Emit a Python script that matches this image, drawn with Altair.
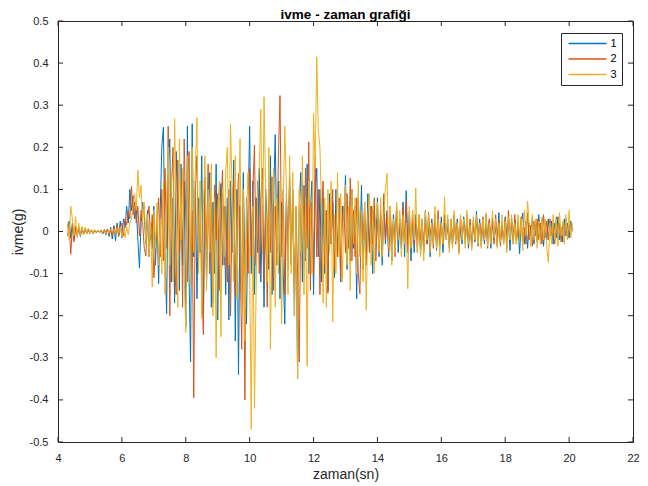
import altair as alt
import pandas as pd

# Sampling of the records (s)
T0 = 4.30
STEP = 0.05

# Series "1" (blue), one row per second of record
seri1 = [
    0.01, 0.025, -0.015, 0.02, -0.02, 0.012, -0.008, 0.01, -0.012, 0.006, -0.004, 0.008, -0.006, 0.004, -0.005, 0.003, -0.004, 0.002, -0.003, 0.002,
    -0.002, 0.004, -0.006, 0.003, -0.008, 0.006, -0.012, 0.01, -0.018, 0.014, -0.022, 0.02, -0.01, 0.025, -0.015, 0.03, 0.01, 0.06, 0.02, 0.1,
    0.05, 0.085, 0.03, 0.06, -0.02, -0.087, 0.02, 0.07, 0.04, -0.03, 0.05, -0.06, 0.02, -0.04, 0.06, -0.08, 0.03, -0.124, 0.05, 0.2,
    0.248, -0.05, -0.195, 0.15, 0.22, -0.12, 0.08, -0.17, 0.19, 0.05, -0.14, 0.16, -0.08, 0.12, -0.226, 0.25, -0.1, -0.31, 0.256, -0.06,
    0.12, -0.16, 0.08, -0.05, 0.18, -0.2, 0.1, -0.12, 0.05, 0.14, -0.18, 0.07, -0.1, 0.16, -0.21, 0.02, 0.114, -0.08, 0.06, -0.15,
    0.08, -0.21, 0.12, -0.05, 0.17, -0.26, 0.1, -0.34, 0.06, -0.18, 0.14, -0.08, -0.22, 0.05, 0.25, -0.1, 0.12, -0.15, 0.08, -0.05,
    0.15, -0.12, 0.06, -0.18, 0.1, 0.02, -0.09, 0.18, -0.15, 0.08, 0.23, -0.05, 0.12, -0.16, 0.07, -0.1, -0.22, 0.09, -0.04, 0.13,
    -0.08, 0.1, -0.2, 0.04, -0.35, 0.06, 0.14, -0.12, 0.11, -0.07, 0.16, -0.1, 0.05, 0.12, -0.15, 0.09, 0.15, -0.06, 0.1, -0.12,
    0.08, -0.1, 0.05, -0.14, 0.09, -0.03, 0.07, -0.11, 0.1, -0.06, 0.04, -0.12, 0.06, 0.02, 0.133, -0.09, 0.05, -0.07, 0.1, -0.04,
    0.06, -0.16, 0.08, -0.05, 0.11, -0.09, 0.03, -0.07, 0.09, -0.04, 0.06, -0.1, 0.05, -0.02, 0.08, -0.06, 0.04, -0.08, 0.07, -0.03,
    0.05, -0.06, 0.03, -0.07, 0.04, -0.02, 0.06, -0.05, 0.02, -0.04, 0.07, -0.06, 0.097, -0.03, 0.05, -0.07, 0.03, -0.05, 0.04, -0.02,
    0.03, -0.05, 0.02, -0.04, 0.05, -0.03, 0.01, -0.06, 0.03, -0.02, 0.04, -0.045, 0.02, -0.03, 0.035, -0.05, 0.02, -0.01, 0.03, -0.04,
    0.02, -0.035, 0.04, -0.02, 0.03, -0.05, 0.01, -0.03, 0.035, -0.015, 0.025, -0.04, 0.02, -0.03, 0.015, -0.025, 0.048, -0.02, 0.03, -0.035,
    0.02, -0.03, 0.04, -0.015, 0.025, -0.04, 0.03, -0.02, 0.01, -0.035, 0.045, -0.025, 0.02, -0.03, 0.035, -0.01, 0.025, -0.045, 0.03, -0.02,
    0.03, -0.02, 0.015, -0.053, 0.02, 0.044, -0.03, 0.025, -0.04, 0.02, -0.01, 0.035, -0.03, 0.02, -0.025, 0.04, -0.015, 0.03, -0.035, 0.02,
    -0.02, 0.03, -0.01, 0.025, -0.03, 0.02, -0.015, 0.035, -0.02, 0.01, -0.025, 0.03, -0.01, 0.02, -0.015, 0.025, 0.005,
]

# Series "2" (orange)
seri2 = [
    -0.01, 0.02, -0.054, 0.015, -0.025, 0.01, -0.012, 0.008, -0.006, 0.01, -0.008, 0.005, -0.004, 0.006, -0.003, 0.004, -0.005, 0.002, -0.002, 0.003,
    -0.003, 0.002, -0.004, 0.005, -0.002, 0.006, -0.008, 0.004, -0.01, 0.012, -0.006, 0.015, -0.012, 0.01, 0.02, -0.01, 0.03, 0.015, 0.05, 0.03,
    0.107, 0.04, 0.07, 0.02, 0.06, -0.01, 0.05, 0.02, -0.04, -0.058, 0.03, 0.06, -0.02, 0.04, -0.11, -0.05, 0.02, 0.08, -0.06, 0.1,
    -0.07, 0.15, -0.04, 0.25, -0.2, 0.1, 0.2, -0.08, -0.15, 0.17, -0.05, 0.12, -0.18, 0.22, 0.03, -0.12, 0.19, -0.1, 0.05, -0.395,
    0.1, 0.18, -0.06, 0.08, -0.12, -0.245, 0.13, -0.04, 0.16, -0.1, 0.07, -0.17, 0.11, -0.02, 0.09, -0.14, 0.05, 0.146, -0.08, 0.06,
    -0.12, 0.1, -0.2, 0.05, 0.12, -0.15, 0.02, 0.138, -0.05, -0.28, 0.06, -0.40, 0.08, -0.1, 0.15, -0.06, 0.1, 0.205, -0.08, 0.12,
    -0.1, 0.08, 0.15, -0.12, 0.04, -0.18, 0.1, -0.05, 0.13, -0.14, 0.06, -0.08, 0.18, 0.323, -0.06, 0.1, -0.15, 0.07, -0.09, 0.12,
    -0.05, 0.09, -0.14, 0.06, -0.1, -0.31, 0.04, 0.12, -0.08, 0.15, -0.04, 0.213, -0.14, 0.07, -0.1, 0.18, -0.06, 0.1, -0.15, 0.05,
    0.12, -0.08, 0.05, -0.147, 0.07, -0.03, 0.1, -0.09, 0.04, -0.06, 0.08, -0.11, 0.03, 0.06, -0.05, 0.09, -0.04, 0.127, -0.07, 0.05,
    -0.06, 0.08, -0.1, -0.148, 0.05, -0.02, 0.07, -0.08, 0.04, -0.05, 0.06, -0.03, 0.08, -0.07, 0.03, -0.04, 0.05, -0.06, 0.09, -0.02,
    0.04, -0.05, 0.06, -0.03, 0.02, -0.06, 0.05, -0.02, 0.03, -0.04, 0.06, -0.03, 0.072, -0.05, 0.02, -0.04, 0.05, -0.03, 0.03, -0.05,
    0.04, -0.02, 0.03, -0.05, 0.02, -0.03, 0.045, -0.01, 0.02, -0.04, 0.03, -0.02, 0.05, -0.035, 0.02, -0.03, 0.04, -0.02, 0.01, -0.03,
    0.03, -0.02, 0.04, -0.03, 0.02, -0.045, 0.035, -0.01, 0.02, -0.03, 0.04, -0.02, 0.03, -0.04, 0.025, -0.015, 0.03, -0.035, 0.02, -0.01,
    0.035, -0.02, 0.015, -0.04, 0.03, -0.01, 0.02, -0.03, 0.04, -0.02, 0.025, -0.035, 0.015, -0.02, 0.03, -0.04, 0.05, -0.01, 0.02, -0.03,
    0.04, -0.03, 0.02, -0.015, 0.035, -0.025, 0.01, -0.03, 0.045, -0.02, 0.015, -0.035, 0.025, -0.01, 0.03, -0.02, 0.02, -0.03, 0.04, -0.015,
    0.025, -0.02, 0.03, -0.01, 0.02, -0.03, 0.035, -0.015, 0.02, -0.025, 0.015, -0.01, 0.03, -0.02, 0.01, 0.02, 0.0,
]

# Series "3" (yellow)
seri3 = [
    0.02, -0.02, 0.06, 0.03, -0.01, 0.035, -0.015, 0.02, -0.01, 0.012, -0.008, 0.01, -0.006, 0.008, -0.005, 0.004, -0.003, 0.005, -0.002, 0.003,
    -0.002, 0.004, -0.003, 0.002, -0.005, 0.003, -0.004, 0.006, -0.002, 0.005, -0.006, 0.008, -0.004, 0.01, -0.012, 0.006, -0.015, 0.012, -0.008, 0.02,
    0.03, 0.06, 0.09, 0.05, 0.146, 0.08, 0.11, 0.02, 0.07, -0.03, 0.04, -0.06, 0.02, -0.132, 0.05, -0.04, 0.068, -0.08, 0.03, -0.1,
    0.12, -0.15, 0.06, 0.2, -0.08, 0.14, -0.12, 0.268, 0.05, -0.18, 0.22, -0.02, 0.15, -0.1, -0.24, 0.18, 0.08, -0.13, 0.2, -0.05,
    0.15, 0.27, -0.1, 0.12, -0.206, 0.06, 0.18, -0.14, 0.1, -0.05, 0.16, -0.2, 0.08, -0.3, 0.04, 0.12, -0.25, 0.1, -0.06, 0.14,
    0.2, -0.08, 0.256, 0.1, -0.12, 0.18, -0.16, 0.06, 0.22, -0.2, 0.1, -0.26, 0.05, 0.14, -0.1, -0.47, 0.06, -0.42, -0.15, 0.1,
    0.15, 0.29, -0.05, 0.32, 0.1, -0.12, 0.2, -0.28, 0.05, 0.15, -0.18, 0.08, -0.1, 0.12, -0.22, 0.06, 0.25, 0.1, -0.15, 0.18,
    -0.1, 0.14, -0.2, 0.06, -0.35, 0.1, -0.05, 0.18, -0.15, 0.08, -0.32, 0.12, 0.05, -0.1, 0.28, 0.15, 0.415, 0.24, 0.2, 0.05,
    -0.17, 0.08, -0.18, 0.1, -0.05, 0.12, -0.215, 0.04, -0.1, 0.14, -0.06, 0.09, -0.12, 0.05, 0.11, -0.08, 0.06, -0.14, 0.1, -0.03,
    0.08, -0.1, 0.12, -0.06, 0.05, -0.12, 0.07, -0.187, 0.04, 0.09, -0.08, 0.06, -0.1, 0.03, 0.07, -0.05, 0.08, -0.06, 0.04, 0.1,
    0.138, -0.04, 0.06, -0.08, 0.03, -0.05, 0.07, -0.02, 0.05, -0.06, 0.04, -0.03, 0.02, -0.136, 0.06, -0.04, 0.05, -0.02, 0.103, -0.05,
    0.04, -0.06, 0.03, -0.07, 0.05, -0.02, 0.04, -0.05, 0.02, -0.03, 0.06, -0.04, 0.03, -0.06, 0.02, -0.03, 0.083, -0.02, 0.04, -0.05,
    0.03, -0.04, 0.05, -0.025, 0.02, -0.055, 0.04, -0.02, 0.03, -0.04, 0.05, -0.03, 0.015, -0.045, 0.035, -0.02, 0.04, -0.03, 0.02, -0.04,
    0.03, -0.02, 0.045, -0.035, 0.02, -0.03, 0.05, -0.015, 0.03, -0.04, 0.02, -0.025, 0.04, -0.03, 0.025, -0.05, 0.035, -0.02, 0.04, -0.03,
    0.02, -0.03, 0.04, -0.02, 0.03, -0.045, 0.05, -0.01, 0.072, 0.02, -0.035, 0.04, -0.02, 0.03, -0.04, 0.025, -0.03, 0.035, -0.02, 0.03,
    -0.04, -0.073, 0.02, -0.03, 0.04, -0.02, 0.03, -0.035, 0.045, -0.01, 0.025, -0.03, 0.04, -0.02, 0.05, -0.015, 0.02,
]

series_names = ["1", "2", "3"]
series_colors = ["#0072BD", "#D95319", "#EDB120"]
x_ticks = [4, 6, 8, 10, 12, 14, 16, 18, 20, 22]
y_ticks = [-0.5, -0.4, -0.3, -0.2, -0.1, 0, 0.1, 0.2, 0.3, 0.4, 0.5]

rows = []
for name, vals in zip(series_names, [seri1, seri2, seri3]):
    for i, v in enumerate(vals):
        rows.append({"t": round(T0 + STEP * i, 3), "ivme": v, "seri": name})
df = pd.DataFrame(rows)

W, H = 575, 421
FONT = "Liberation Sans"
AX = "#262626"

xs = alt.Scale(domain=[4, 22], nice=False, zero=False)
ys = alt.Scale(domain=[-0.5, 0.5], nice=False, zero=False)

axis_style = dict(ticks=False, domain=False, grid=False, labelFlush=False,
                  labelFont=FONT, titleFont=FONT, labelColor=AX, titleColor=AX,
                  labelFontSize=11, titleFontSize=14, titleFontWeight="normal")
x_axis = alt.Axis(values=x_ticks, labelPadding=10, titlePadding=4, title="zaman(sn)", **axis_style)
y_axis = alt.Axis(values=y_ticks, format="~g", labelPadding=10, titlePadding=4, title="ivme(g)",
                  labelExpr="replace(datum.label, '\u2212', '-')", **axis_style)

lines = alt.Chart(df).mark_line(strokeWidth=1).encode(
    x=alt.X("t:Q", scale=xs, axis=x_axis),
    y=alt.Y("ivme:Q", scale=ys, axis=y_axis),
    color=alt.Color("seri:N",
                    scale=alt.Scale(domain=series_names, range=series_colors),
                    legend=alt.Legend(orient="none", legendX=503, legendY=12, title=None,
                                      symbolType="M-4,0H4", symbolSize=90, symbolStrokeWidth=1.5,
                                      symbolOffset=16, labelOffset=17.5,
                                      labelFont=FONT, labelFontSize=11, labelColor="#000",
                                      padding=5, rowPadding=3.5,
                                      strokeColor=AX, fillColor="white", cornerRadius=0)),
)

xt = pd.DataFrame({"t": x_ticks})
yt = pd.DataFrame({"ivme": y_ticks})

tick_bottom = alt.Chart(xt).mark_rule(color=AX, strokeWidth=1).encode(
    x=alt.X("t:Q", scale=xs, axis=x_axis), y=alt.value(H), y2=alt.value(H - 5))
tick_top = alt.Chart(xt).mark_rule(color=AX, strokeWidth=1).encode(
    x=alt.X("t:Q", scale=xs, axis=x_axis), y=alt.value(0), y2=alt.value(5))
tick_left = alt.Chart(yt).mark_rule(color=AX, strokeWidth=1).encode(
    y=alt.Y("ivme:Q", scale=ys, axis=y_axis), x=alt.value(0), x2=alt.value(5))
tick_right = alt.Chart(yt).mark_rule(color=AX, strokeWidth=1).encode(
    y=alt.Y("ivme:Q", scale=ys, axis=y_axis), x=alt.value(W), x2=alt.value(W - 5))

chart = alt.layer(lines, tick_bottom, tick_top, tick_left, tick_right).properties(
    width=W, height=H,
    title=alt.Title("ivme - zaman grafiği", font=FONT, fontSize=13.5, fontWeight="bold",
                    color="#000", offset=0, dy=6.5),
    padding={"left": 50, "top": 13, "right": 7, "bottom": 42},
    autosize=alt.AutoSizeParams(type="none"),
    background="white",
).configure_view(
    stroke=AX, strokeWidth=1
)

chart.save("out.html", embed_options={"renderer": "svg", "actions": False})
